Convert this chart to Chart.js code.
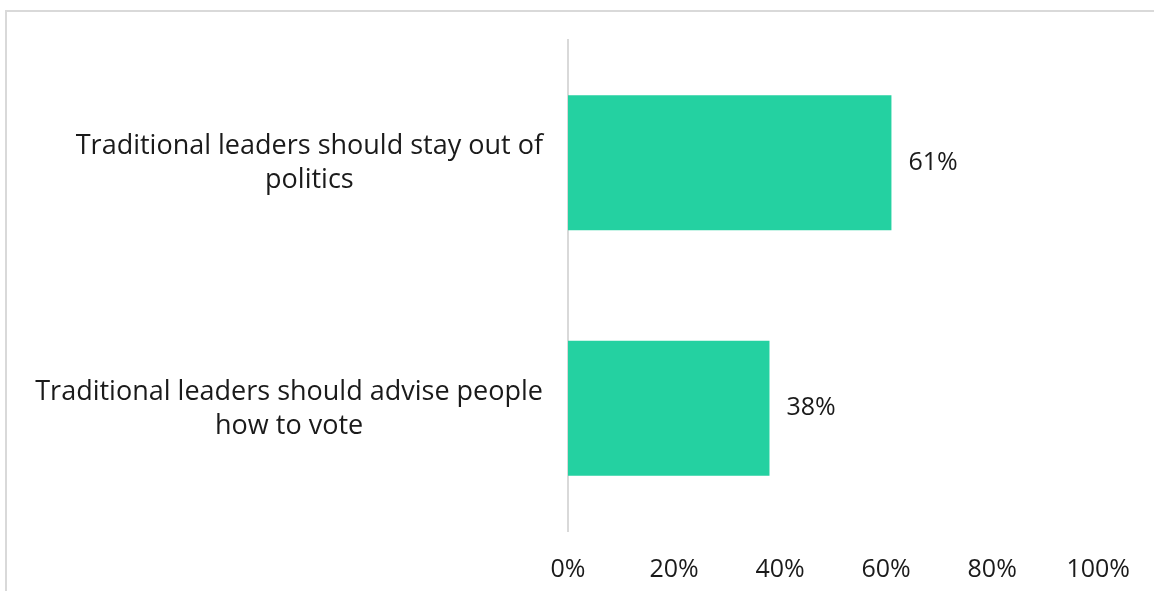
<!DOCTYPE html>
<html><head><meta charset="utf-8">
<script src="https://cdn.jsdelivr.net/npm/chart.js@4"></script>
<style>
html,body{margin:0;padding:0;background:#fff;width:1154px;height:591px;overflow:hidden}
#frame{position:absolute;left:5px;top:10px;width:1200px;height:700px;border-left:2px solid #d9d9d9;border-top:2px solid #d9d9d9;}
#wrap{position:absolute;left:0;top:0;width:1154px;height:591px}
</style></head><body>
<div id="frame"></div>
<div id="wrap"><canvas id="c"></canvas></div>
<script>
const categories = [["Traditional leaders should stay out of", "politics"], ["Traditional leaders should advise people", "how to vote"]];
const values = [61, 38];
const xMin = 0, xMax = 100, xStep = 20;

const FONT = "'Open Sans', sans-serif";
const barColor = '#24D1A1';
const textColor = '#1a1a1a';

const valueLabels = {
  id: 'valueLabels',
  afterDatasetsDraw(chart) {
    const ctx = chart.ctx;
    const meta = chart.getDatasetMeta(0);
    ctx.save();
    ctx.font = "25px " + FONT;
    ctx.fillStyle = textColor;
    ctx.textAlign = 'left';
    ctx.textBaseline = 'middle';
    meta.data.forEach((bar, i) => {
      ctx.fillText(values[i] + '%', bar.x + 17, bar.y);
    });
    ctx.restore();
  }
};

const categoryLabels = {
  id: 'categoryLabels',
  afterDraw(chart) {
    const ctx = chart.ctx;
    const yScale = chart.scales.y;
    const lineH = 34;
    ctx.save();
    ctx.font = "27px " + FONT;
    ctx.fillStyle = textColor;
    ctx.textAlign = 'center';
    ctx.textBaseline = 'middle';
    categories.forEach((lines, i) => {
      const yc = yScale.getPixelForValue(i) + 1;
      const w = Math.max(...lines.map(l => ctx.measureText(l).width));
      const right = chart.chartArea.left - 25;
      const cx = right - w / 2;
      lines.forEach((l, j) => {
        ctx.fillText(l, cx, yc + (j - (lines.length - 1) / 2) * lineH);
      });
    });
    ctx.restore();
  }
};

new Chart(document.getElementById('c'), {
  type: 'bar',
  data: {
    labels: categories,
    datasets: [{ data: values, backgroundColor: barColor, borderWidth: 0, barPercentage: 0.55, categoryPercentage: 1 }]
  },
  options: {
    indexAxis: 'y',
    responsive: true,
    maintainAspectRatio: false,
    animation: false,
    layout: { padding: { top: 40, right: 50, left: 0, bottom: 0 } },
    plugins: { legend: { display: false }, tooltip: { enabled: false } },
    scales: {
      x: {
        min: xMin, max: xMax,
        grid: { display: false, drawTicks: false },
        border: { display: false },
        ticks: { stepSize: xStep, padding: 24, color: textColor, font: { family: FONT, size: 25 }, callback: v => v + '%' },
        afterFit(scale) { scale.height = 60; }
      },
      y: {
        grid: { display: false, drawTicks: false },
        border: { display: true, color: '#d9d9d9', width: 2 },
        ticks: { display: false },
        afterFit(scale) { scale.width = 568; }
      }
    }
  },
  plugins: [valueLabels, categoryLabels]
});
</script>
</body></html>
